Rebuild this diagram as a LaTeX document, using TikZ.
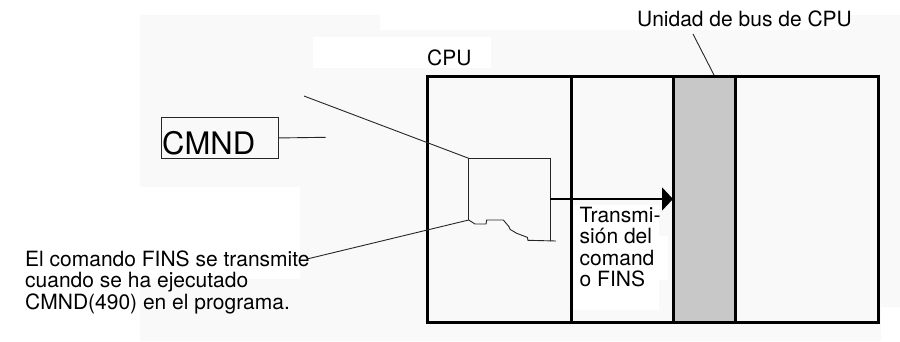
\documentclass[tikz,border=0pt]{standalone}
\usepackage{fontspec}
\setmainfont{TeX Gyre Heros}
\usetikzlibrary{arrows.meta}
\definecolor{paper}{HTML}{F9F9F9}
\definecolor{slot}{HTML}{C8C8C8}
\tikzset{
  lbl/.style={anchor=base west,inner sep=0pt,align=left,font=\fontsize{21}{21.4}\selectfont,text=black},
  frame/.style={draw=black,line width=3pt},
  thin line/.style={draw=black!85,line width=0.9pt},
  whitepatch/.style={fill=white,draw=none},
}
\begin{document}
\begin{tikzpicture}[x=1pt,y=-1pt]
\useasboundingbox (0,0) rectangle (900,341);
% faint background patches
\fill[white] (0,0) rectangle (900,341);
\fill[paper] (140,15) -- (380,15) -- (380,30) -- (850,30) -- (850,15) -- (900,15) -- (900,307) -- (881,307) -- (881,341) -- (140,341) -- cycle;
\fill[whitepatch] (313,37) rectangle (491,68);
\fill[whitepatch] (140,187) rectangle (300,279);
\fill[whitepatch] (574,205) rectangle (659,310);
\fill[whitepatch] (659,236) rectangle (668,280);
% slot and frame
\fill[slot] (673,76) rectangle (735,323);
\draw[frame] (427.5,76) rectangle (878,322.7);
\draw[frame] (571.7,76) -- (571.7,322.7);
\draw[frame] (673.3,76) -- (673.3,322.7);
\draw[frame] (735,76) -- (735,322.7);
% texts
\node[lbl] (bus) at (637,26) {Unidad de bus de CPU};
\node[lbl] (cpu) at (427,65) {CPU};
\node[lbl] (tx) at (579.5,286.7) {Transmi-\\sión del\\comand\\o FINS};
\node[lbl] (msg) at (25,309) {El comando FINS se transmite\\cuando se ha ejecutado\\CMND(490) en el programa.};
\node[draw=black!85,line width=0.9pt,minimum width=117pt,minimum height=41.6pt,anchor=north west,inner sep=0pt] (cmnd) at (160.7,116.7) {};
\node[anchor=base west,inner sep=0pt,font=\fontsize{31}{31}\selectfont] (cmndt) at (162,154.5) {CMND};
% free ends
\coordinate (busend) at (714,75);
\coordinate (busstart) at (693,34);
\coordinate (cmndend) at (325.7,137.3);
\coordinate (upA) at (304,96);
\coordinate (lowA) at (307,259);
\coordinate (tl) at (468.7,158.3);
\coordinate (tr) at (550.3,158.3);
\coordinate (bl) at (468.7,220);
\coordinate (br) at (550.3,241);
\coordinate (tipfrom) at (550.3,199);
\coordinate (tip) at (673,199);
% connectors
\draw[thin line] (busstart) -- (busend);
\draw[thin line] (cmnd.east) -- (cmndend);
\draw[thin line] (upA) -- (tl);
\draw[thin line] (lowA) -- (bl);
\draw[thin line] (bl) -- (tl) -- (tr) -- (br);
\draw[thin line] (bl) -- (475,224) -- (486,224) -- (486.7,220) -- (503.3,220) -- (509,226.7) -- (510,229.3) -- (516.7,233.3) -- (527.3,237.3) -- (528,240.3) -- (556,241);
\draw[black,line width=2pt,-{Triangle[length=11pt,width=23pt]}] (tipfrom) -- (tip);
\end{tikzpicture}
\end{document}
